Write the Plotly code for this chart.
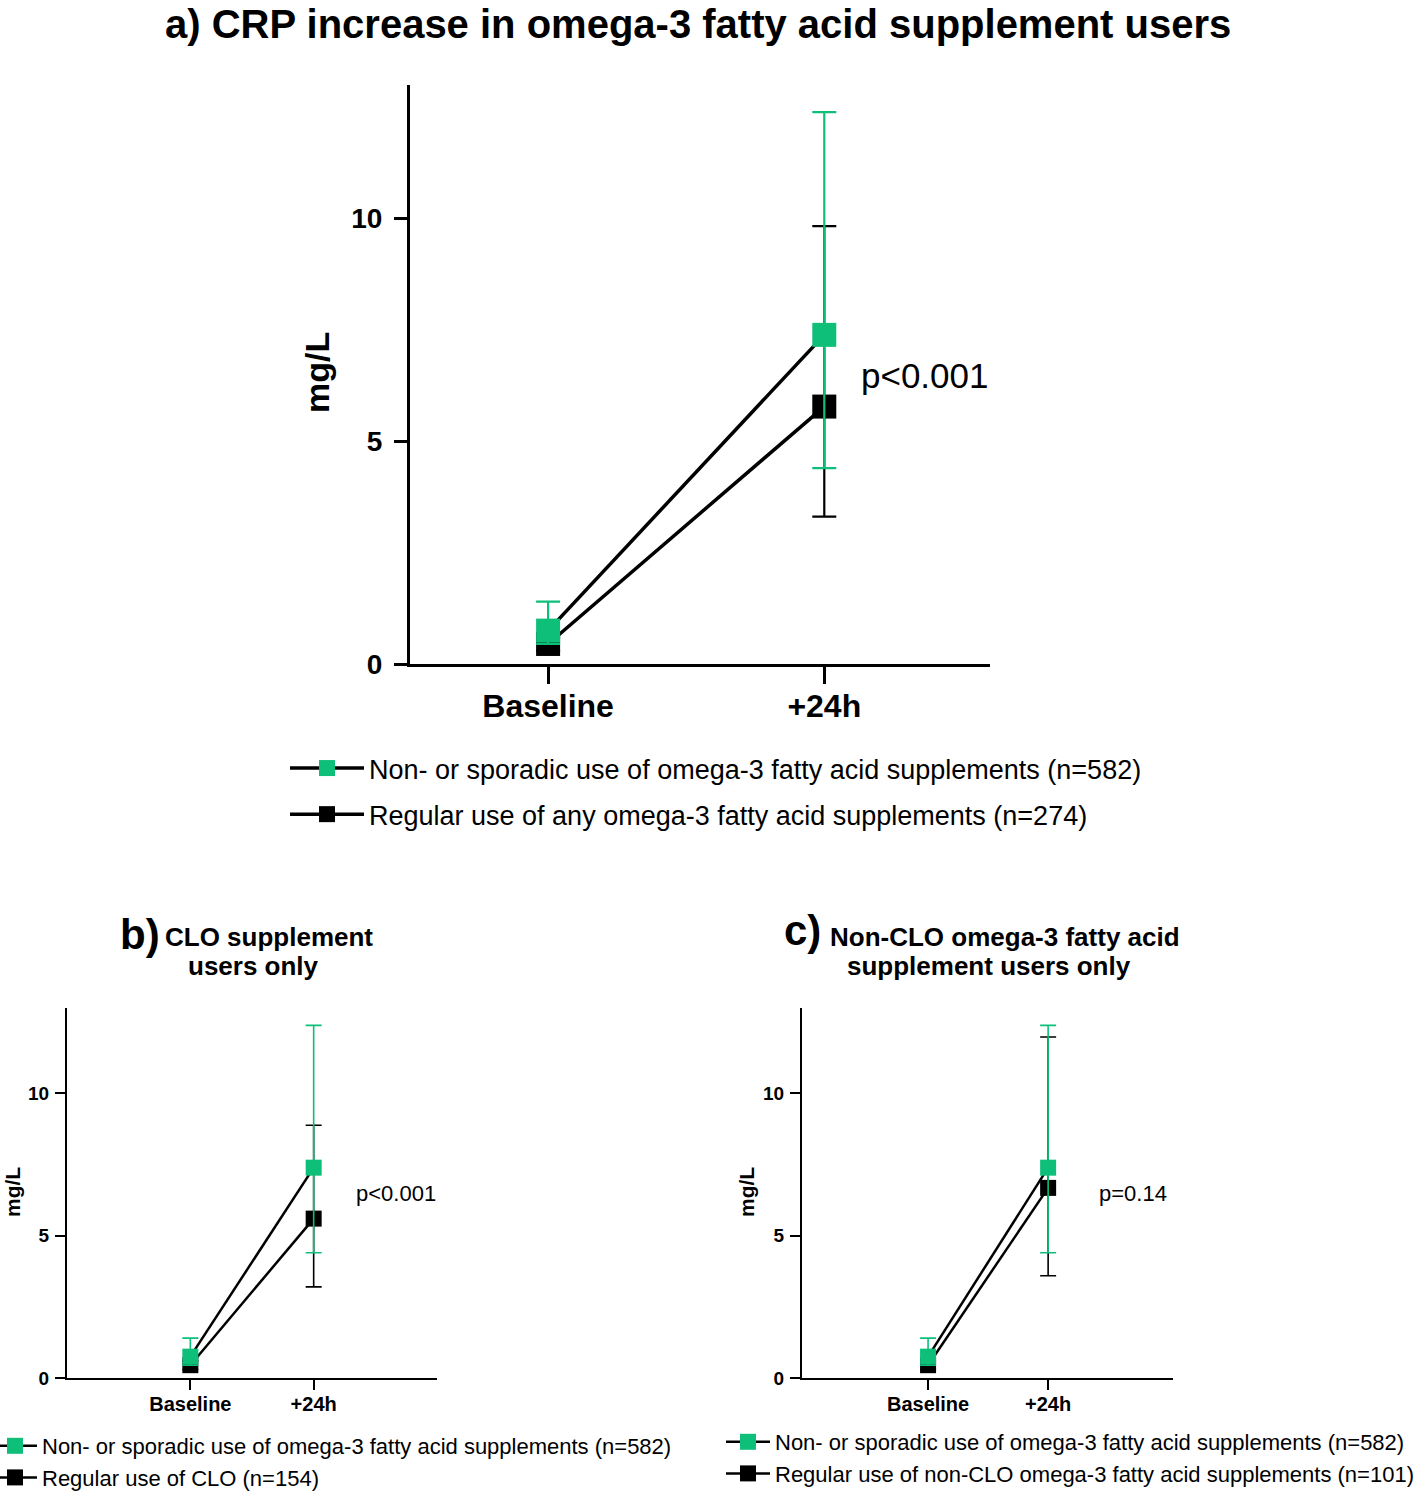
import plotly.graph_objects as go

# ---------------- data ----------------
time_points = [0, 1]
time_labels = ["Baseline", "+24h"]

# reference group (same in all panels)
ref_mean = [0.75, 7.39]
ref_upper = [1.40, 12.39]
ref_lower = [0.45, 4.40]

# panel a: regular use of any omega-3 supplements
a_mean = [0.45, 5.78]
a_upper = [0.60, 9.83]
a_lower = [0.30, 3.31]

# panel b: regular use of CLO
b_mean = [0.45, 5.60]
b_upper = [0.60, 8.88]
b_lower = [0.30, 3.20]

# panel c: regular use of non-CLO omega-3 supplements
c_mean = [0.45, 6.68]
c_upper = [0.60, 11.98]
c_lower = [0.30, 3.59]

ref_name = "Non- or sporadic use of omega-3 fatty acid supplements (n=582)"
a_name = "Regular use of any omega-3 fatty acid supplements (n=274)"
b_name = "Regular use of CLO (n=154)"
c_name = "Regular use of non-CLO omega-3 fatty acid supplements (n=101)"

y_ticks = [0, 5, 10]

GREEN = "#0DBF78"
FONT = "Liberation Sans, Arial, sans-serif"
W, H = 1418, 1491


def px(x):
    return x / W


def py(y):
    return 1 - y / H


def err(mean, upper, lower):
    return ([u - m for u, m in zip(upper, mean)], [m - l for m, l in zip(mean, lower)])


fig = go.Figure()


def add_pair(xa, ya, legend, m_b, u_b, l_b, name_b, big, lgroup):
    msize = 24 if big else 16
    lw = 3.5 if big else 2.5
    ew = 2.2 if big else 1.6
    cw = 12 if big else 8
    up, dn = err(m_b, u_b, l_b)
    # black group first (drawn underneath)
    fig.add_trace(go.Scatter(
        x=time_points, y=m_b, mode="lines+markers", name=name_b,
        xaxis=xa, yaxis=ya, legend=legend, legendgroup=lgroup + "b", legendrank=2,
        line=dict(color="black", width=lw),
        marker=dict(symbol="square", size=msize, color="black"),
        error_y=dict(type="data", symmetric=False, array=up, arrayminus=dn,
                     color="black", thickness=ew, width=cw),
    ))
    up, dn = err(ref_mean, ref_upper, ref_lower)
    fig.add_trace(go.Scatter(
        x=time_points, y=ref_mean, mode="lines+markers", name=ref_name,
        xaxis=xa, yaxis=ya, legend=legend, legendgroup=lgroup + "g", legendrank=1,
        line=dict(color="black", width=lw),
        marker=dict(symbol="square", size=msize, color=GREEN),
        error_y=dict(type="data", symmetric=False, array=up, arrayminus=dn,
                     color=GREEN, thickness=ew, width=cw),
    ))


add_pair("x", "y", "legend", a_mean, a_upper, a_lower, a_name, True, "a")
add_pair("x2", "y2", "legend2", b_mean, b_upper, b_lower, b_name, False, "b")
add_pair("x3", "y3", "legend3", c_mean, c_upper, c_lower, c_name, False, "c")


def xaxis(dom, rng, big, anchor):
    return dict(domain=dom, range=rng, anchor=anchor, tickvals=time_points, ticktext=time_labels,
                showline=True, linecolor="black", linewidth=3 if big else 2,
                ticks="outside", ticklen=17 if big else 10, tickwidth=3 if big else 2, tickcolor="black",
                showgrid=False, zeroline=False, fixedrange=True,
                tickfont=dict(family=FONT, size=32 if big else 20, color="black", weight="bold"),
                ticklabelstandoff=-5 if big else -3)


def yaxis(dom, big, anchor):
    return dict(domain=dom, range=[0, 13], anchor=anchor, tickvals=y_ticks,
                showline=True, linecolor="black", linewidth=3 if big else 2,
                ticks="outside", ticklen=13 if big else 10, tickwidth=3 if big else 2, tickcolor="black",
                showgrid=False, zeroline=False, fixedrange=True,
                tickfont=dict(family=FONT, size=28 if big else 19, color="black", weight="bold"),
                ticklabelstandoff=6 if big else 2)


fig.update_layout(
    width=W, height=H, margin=dict(l=0, r=0, t=0, b=0, autoexpand=False),
    plot_bgcolor="white", paper_bgcolor="white",
    font=dict(family=FONT, color="black"),
    xaxis=xaxis([px(410), px(990)], [-0.5, 1.6], True, "y"),
    yaxis=yaxis([py(664), py(85)], True, "x"),
    xaxis2=xaxis([px(67), px(437)], [-1.0, 2.0], False, "y2"),
    yaxis2=yaxis([py(1378), py(1008)], False, "x2"),
    xaxis3=xaxis([px(802), px(1173)], [-1.05, 2.04], False, "y3"),
    yaxis3=yaxis([py(1378), py(1008)], False, "x3"),
    legend=dict(x=px(285), y=py(744), xanchor="left", yanchor="top", itemwidth=74,
                font=dict(family=FONT, size=27, color="black"), tracegroupgap=8,
                bgcolor="rgba(0,0,0,0)"),
    legend2=dict(x=px(-12), y=py(1425), xanchor="left", yanchor="top", itemwidth=44,
                 font=dict(family=FONT, size=22, color="black"), tracegroupgap=0,
                 bgcolor="rgba(0,0,0,0)"),
    legend3=dict(x=px(721), y=py(1421), xanchor="left", yanchor="top", itemwidth=44,
                 font=dict(family=FONT, size=22, color="black"), tracegroupgap=0,
                 bgcolor="rgba(0,0,0,0)"),
    showlegend=True,
)

ann = []


def text(x, y, t, size, bold=False, xanchor="center", angle=0, yanchor="middle"):
    ann.append(dict(x=px(x), y=py(y), xref="paper", yref="paper", text=t, showarrow=False,
                    xanchor=xanchor, yanchor=yanchor, textangle=angle,
                    font=dict(family=FONT, size=size, color="black", weight="bold" if bold else "normal")))


text(698, 0, "a) CRP increase in omega-3 fatty acid supplement users", 40, True, yanchor="top")
text(317, 373, "mg/L", 34, True, angle=-90)
text(859, 375, "p&lt;0.001", 35, False, xanchor="left")

text(140, 934, "b)", 42, True)
text(269, 937, "CLO supplement", 26, True)
text(253, 966, "users only", 26, True)
text(12, 1192, "mg/L", 21, True, angle=-90)
text(354, 1193, "p&lt;0.001", 22, False, xanchor="left")

text(802, 930, "c)", 42, True)
text(1005, 937, "Non-CLO omega-3 fatty acid", 26, True)
text(989, 966, "supplement users only", 26, True)
text(746, 1192, "mg/L", 21, True, angle=-90)
text(1097, 1193, "p=0.14", 22, False, xanchor="left")

fig.update_layout(annotations=ann)

fig.write_html("out.html", config={"displayModeBar": False},
               post_script="document.body.style.margin='0';document.body.style.overflow='hidden';")
